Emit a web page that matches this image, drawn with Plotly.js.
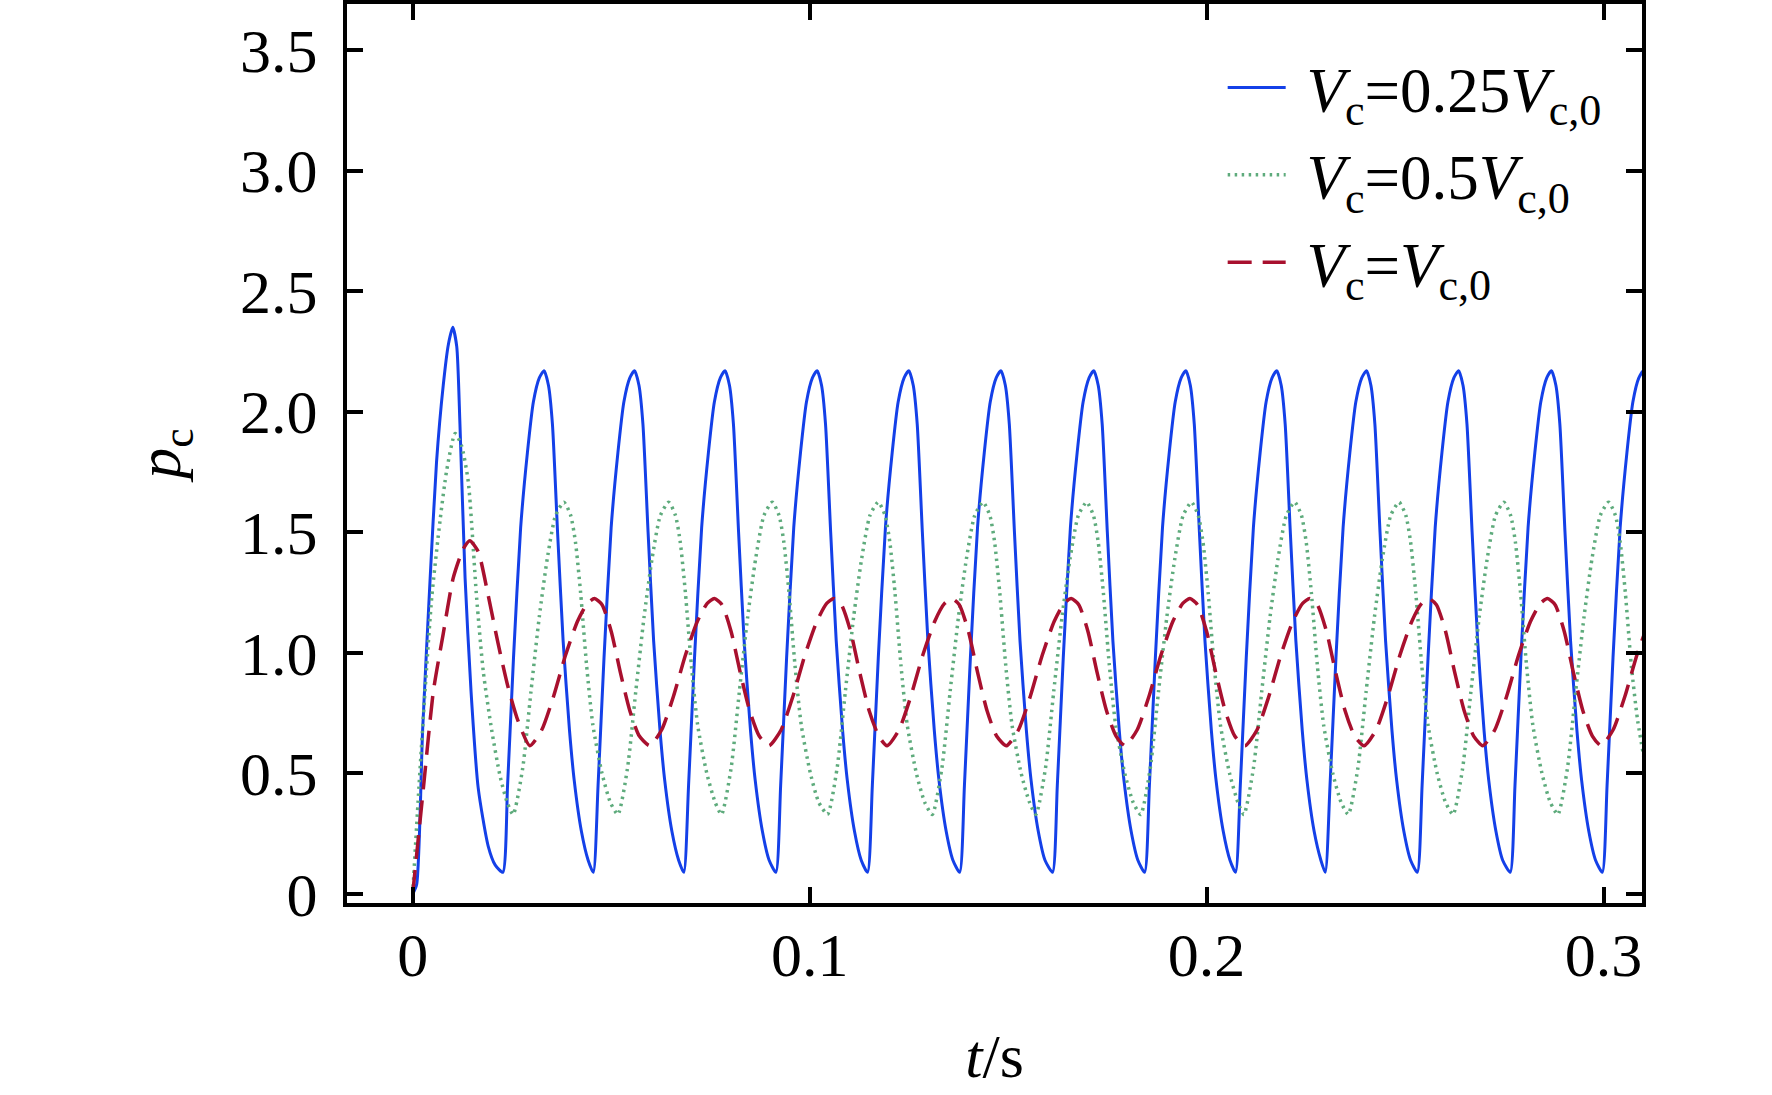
<!DOCTYPE html>
<html>
<head>
<meta charset="utf-8">
<script src="https://cdn.plot.ly/plotly-3.0.1.min.js"></script>
<style>
  html, body { margin: 0; padding: 0; background: #fff; }
  #plot { width: 1772px; height: 1095px; }
</style>
</head>
<body>
<div id="plot"></div>
<script>
// values, one cycle per line
const blueT = [
  0, 0.0010, 0.0025, 0.0044, 0.0060, 0.0077, 0.0090, 0.0101, 0.0111, 0.0119, 0.0132, 0.0147, 0.0165, 0.0190, 0.0208,
  0.0227, 0.0239, 0.0254, 0.0272, 0.0289, 0.0304, 0.0319, 0.0331, 0.0342, 0.0352, 0.0365, 0.0379, 0.0395, 0.0407, 0.0425, 0.0442,
  0.0455, 0.0467, 0.0482, 0.0500, 0.0517, 0.0532, 0.0547, 0.0559, 0.0570, 0.0580, 0.0593, 0.0607, 0.0623, 0.0635, 0.0653, 0.0670,
  0.0683, 0.0695, 0.0710, 0.0728, 0.0745, 0.0760, 0.0775, 0.0787, 0.0798, 0.0808, 0.0821, 0.0835, 0.0851, 0.0863, 0.0881, 0.0898,
  0.0915, 0.0927, 0.0942, 0.0960, 0.0977, 0.0992, 0.1007, 0.1019, 0.1030, 0.1040, 0.1053, 0.1067, 0.1083, 0.1095, 0.1113, 0.1130,
  0.1146, 0.1158, 0.1173, 0.1191, 0.1208, 0.1223, 0.1238, 0.1250, 0.1261, 0.1271, 0.1284, 0.1298, 0.1314, 0.1326, 0.1344, 0.1361,
  0.1378, 0.1390, 0.1405, 0.1423, 0.1440, 0.1455, 0.1470, 0.1482, 0.1493, 0.1503, 0.1516, 0.1530, 0.1546, 0.1558, 0.1576, 0.1593,
  0.1612, 0.1624, 0.1639, 0.1657, 0.1674, 0.1689, 0.1704, 0.1716, 0.1727, 0.1737, 0.1750, 0.1764, 0.1780, 0.1792, 0.1810, 0.1827,
  0.1844, 0.1856, 0.1871, 0.1889, 0.1906, 0.1921, 0.1936, 0.1948, 0.1959, 0.1969, 0.1982, 0.1996, 0.2012, 0.2024, 0.2042, 0.2059,
  0.2073, 0.2085, 0.2100, 0.2118, 0.2135, 0.2150, 0.2165, 0.2177, 0.2188, 0.2198, 0.2211, 0.2225, 0.2241, 0.2253, 0.2271, 0.2288,
  0.2299, 0.2311, 0.2326, 0.2344, 0.2361, 0.2376, 0.2391, 0.2403, 0.2414, 0.2424, 0.2437, 0.2451, 0.2467, 0.2479, 0.2497, 0.2514,
  0.2531, 0.2543, 0.2558, 0.2576, 0.2593, 0.2608, 0.2623, 0.2635, 0.2646, 0.2656, 0.2669, 0.2683, 0.2699, 0.2711, 0.2729, 0.2746,
  0.2765, 0.2777, 0.2792, 0.2810, 0.2827, 0.2842, 0.2857, 0.2869, 0.2880, 0.2890, 0.2903, 0.2917, 0.2933, 0.2945, 0.2963, 0.2980,
  0.2997, 0.3009, 0.3024, 0.3042, 0.3059, 0.3074, 0.3089, 0.3101, 0.3112
];
const blueP = [
  0, 0.04, 0.68, 1.31, 1.79, 2.11, 2.28, 2.35, 2.27, 1.95, 1.31, 0.84, 0.44, 0.20, 0.12,
  0.09, 0.45, 0.98, 1.52, 1.83, 2.04, 2.14, 2.17, 2.11, 1.95, 1.50, 1.05, 0.68, 0.47, 0.26, 0.14,
  0.09, 0.45, 0.98, 1.52, 1.83, 2.04, 2.14, 2.17, 2.11, 1.95, 1.50, 1.05, 0.68, 0.47, 0.26, 0.14,
  0.09, 0.45, 0.98, 1.52, 1.83, 2.04, 2.14, 2.17, 2.11, 1.95, 1.50, 1.05, 0.68, 0.47, 0.26, 0.14,
  0.09, 0.45, 0.98, 1.52, 1.83, 2.04, 2.14, 2.17, 2.11, 1.95, 1.50, 1.05, 0.68, 0.47, 0.26, 0.14,
  0.09, 0.45, 0.98, 1.52, 1.83, 2.04, 2.14, 2.17, 2.11, 1.95, 1.50, 1.05, 0.68, 0.47, 0.26, 0.14,
  0.09, 0.45, 0.98, 1.52, 1.83, 2.04, 2.14, 2.17, 2.11, 1.95, 1.50, 1.05, 0.68, 0.47, 0.26, 0.14,
  0.09, 0.45, 0.98, 1.52, 1.83, 2.04, 2.14, 2.17, 2.11, 1.95, 1.50, 1.05, 0.68, 0.47, 0.26, 0.14,
  0.09, 0.45, 0.98, 1.52, 1.83, 2.04, 2.14, 2.17, 2.11, 1.95, 1.50, 1.05, 0.68, 0.47, 0.26, 0.14,
  0.09, 0.45, 0.98, 1.52, 1.83, 2.04, 2.14, 2.17, 2.11, 1.95, 1.50, 1.05, 0.68, 0.47, 0.26, 0.14,
  0.09, 0.45, 0.98, 1.52, 1.83, 2.04, 2.14, 2.17, 2.11, 1.95, 1.50, 1.05, 0.68, 0.47, 0.26, 0.14,
  0.09, 0.45, 0.98, 1.52, 1.83, 2.04, 2.14, 2.17, 2.11, 1.95, 1.50, 1.05, 0.68, 0.47, 0.26, 0.14,
  0.09, 0.45, 0.98, 1.52, 1.83, 2.04, 2.14, 2.17, 2.11, 1.95, 1.50, 1.05, 0.68, 0.47, 0.26, 0.14,
  0.09, 0.45, 0.98, 1.52, 1.83, 2.04, 2.14, 2.17, 2.11
];

const greenT = [
  0, 0.0016, 0.0031, 0.0048, 0.0069, 0.0086, 0.0107, 0.0123, 0.0140, 0.0161, 0.0178, 0.0199, 0.0220, 0.0238,
  0.0253, 0.0277, 0.0298, 0.0319, 0.0339, 0.0360, 0.0381, 0.0398, 0.0410, 0.0423, 0.0438, 0.0454, 0.0477, 0.0498,
  0.0517, 0.0541, 0.0562, 0.0583, 0.0603, 0.0624, 0.0645, 0.0662, 0.0674, 0.0687, 0.0702, 0.0718, 0.0741, 0.0762,
  0.0778, 0.0802, 0.0823, 0.0844, 0.0864, 0.0885, 0.0906, 0.0923, 0.0935, 0.0948, 0.0963, 0.0979, 0.1002, 0.1023,
  0.1045, 0.1069, 0.1090, 0.1111, 0.1131, 0.1152, 0.1173, 0.1190, 0.1202, 0.1215, 0.1230, 0.1246, 0.1269, 0.1290,
  0.1309, 0.1333, 0.1354, 0.1375, 0.1395, 0.1416, 0.1437, 0.1454, 0.1466, 0.1479, 0.1494, 0.1510, 0.1533, 0.1554,
  0.1570, 0.1594, 0.1615, 0.1636, 0.1656, 0.1677, 0.1698, 0.1715, 0.1727, 0.1740, 0.1755, 0.1771, 0.1794, 0.1815,
  0.1834, 0.1858, 0.1879, 0.1900, 0.1920, 0.1941, 0.1962, 0.1979, 0.1991, 0.2004, 0.2019, 0.2035, 0.2058, 0.2079,
  0.2094, 0.2118, 0.2139, 0.2160, 0.2180, 0.2201, 0.2222, 0.2239, 0.2251, 0.2264, 0.2279, 0.2295, 0.2318, 0.2339,
  0.2357, 0.2381, 0.2402, 0.2423, 0.2443, 0.2464, 0.2485, 0.2502, 0.2514, 0.2527, 0.2542, 0.2558, 0.2581, 0.2602,
  0.2621, 0.2645, 0.2666, 0.2687, 0.2707, 0.2728, 0.2749, 0.2766, 0.2778, 0.2791, 0.2806, 0.2822, 0.2845, 0.2866,
  0.2885, 0.2909, 0.2930, 0.2951, 0.2971, 0.2992, 0.3013, 0.3030, 0.3042, 0.3055, 0.3070, 0.3086, 0.3109
];
const greenP = [
  0, 0.45, 0.84, 1.23, 1.55, 1.76, 1.91, 1.86, 1.71, 1.23, 0.92, 0.68, 0.49, 0.38,
  0.33, 0.52, 0.84, 1.15, 1.39, 1.57, 1.625, 1.57, 1.46, 1.25, 0.95, 0.70, 0.50, 0.38,
  0.33, 0.52, 0.84, 1.15, 1.39, 1.57, 1.625, 1.57, 1.46, 1.25, 0.95, 0.70, 0.50, 0.38,
  0.33, 0.52, 0.84, 1.15, 1.39, 1.57, 1.625, 1.57, 1.46, 1.25, 0.95, 0.70, 0.50, 0.38,
  0.33, 0.52, 0.84, 1.15, 1.39, 1.57, 1.625, 1.57, 1.46, 1.25, 0.95, 0.70, 0.50, 0.38,
  0.33, 0.52, 0.84, 1.15, 1.39, 1.57, 1.625, 1.57, 1.46, 1.25, 0.95, 0.70, 0.50, 0.38,
  0.33, 0.52, 0.84, 1.15, 1.39, 1.57, 1.625, 1.57, 1.46, 1.25, 0.95, 0.70, 0.50, 0.38,
  0.33, 0.52, 0.84, 1.15, 1.39, 1.57, 1.625, 1.57, 1.46, 1.25, 0.95, 0.70, 0.50, 0.38,
  0.33, 0.52, 0.84, 1.15, 1.39, 1.57, 1.625, 1.57, 1.46, 1.25, 0.95, 0.70, 0.50, 0.38,
  0.33, 0.52, 0.84, 1.15, 1.39, 1.57, 1.625, 1.57, 1.46, 1.25, 0.95, 0.70, 0.50, 0.38,
  0.33, 0.52, 0.84, 1.15, 1.39, 1.57, 1.625, 1.57, 1.46, 1.25, 0.95, 0.70, 0.50, 0.38,
  0.33, 0.52, 0.84, 1.15, 1.39, 1.57, 1.625, 1.57, 1.46, 1.25, 0.95, 0.72, 0.50
];

const redT = [
  0, 0.0027, 0.0052, 0.0077, 0.0102, 0.0127, 0.0144, 0.0165, 0.0190, 0.0215, 0.0240, 0.0265,
  0.0295, 0.0325, 0.0355, 0.0385, 0.0415, 0.0440, 0.0458, 0.0477, 0.0500, 0.0523, 0.0547, 0.0571,
  0.0597, 0.0627, 0.0657, 0.0687, 0.0717, 0.0742, 0.0760, 0.0779, 0.0802, 0.0825, 0.0849, 0.0873,
  0.0898, 0.0928, 0.0958, 0.0988, 0.1018, 0.1043, 0.1061, 0.1080, 0.1103, 0.1126, 0.1150, 0.1174,
  0.1195, 0.1225, 0.1255, 0.1285, 0.1315, 0.1340, 0.1358, 0.1377, 0.1400, 0.1423, 0.1447, 0.1471,
  0.1496, 0.1526, 0.1556, 0.1586, 0.1616, 0.1641, 0.1659, 0.1678, 0.1701, 0.1724, 0.1748, 0.1772,
  0.1795, 0.1825, 0.1855, 0.1885, 0.1915, 0.1940, 0.1958, 0.1977, 0.2000, 0.2023, 0.2047, 0.2071,
  0.2097, 0.2127, 0.2157, 0.2187, 0.2217, 0.2242, 0.2260, 0.2279, 0.2302, 0.2325, 0.2349, 0.2373,
  0.2397, 0.2427, 0.2457, 0.2487, 0.2517, 0.2542, 0.2560, 0.2579, 0.2602, 0.2625, 0.2649, 0.2673,
  0.2696, 0.2726, 0.2756, 0.2786, 0.2816, 0.2841, 0.2859, 0.2878, 0.2901, 0.2924, 0.2948, 0.2972,
  0.2994, 0.3024, 0.3054, 0.3084, 0.3114
];
const redP = [
  0, 0.44, 0.84, 1.08, 1.31, 1.43, 1.465, 1.42, 1.24, 1.04, 0.86, 0.72,
  0.615, 0.68, 0.82, 0.99, 1.13, 1.205, 1.225, 1.20, 1.09, 0.92, 0.76, 0.655,
  0.615, 0.68, 0.82, 0.99, 1.13, 1.205, 1.225, 1.20, 1.09, 0.92, 0.76, 0.655,
  0.615, 0.68, 0.82, 0.99, 1.13, 1.205, 1.225, 1.20, 1.09, 0.92, 0.76, 0.655,
  0.615, 0.68, 0.82, 0.99, 1.13, 1.205, 1.225, 1.20, 1.09, 0.92, 0.76, 0.655,
  0.615, 0.68, 0.82, 0.99, 1.13, 1.205, 1.225, 1.20, 1.09, 0.92, 0.76, 0.655,
  0.615, 0.68, 0.82, 0.99, 1.13, 1.205, 1.225, 1.20, 1.09, 0.92, 0.76, 0.655,
  0.615, 0.68, 0.82, 0.99, 1.13, 1.205, 1.225, 1.20, 1.09, 0.92, 0.76, 0.655,
  0.615, 0.68, 0.82, 0.99, 1.13, 1.205, 1.225, 1.20, 1.09, 0.92, 0.76, 0.655,
  0.615, 0.68, 0.82, 0.99, 1.13, 1.205, 1.225, 1.20, 1.09, 0.92, 0.76, 0.655,
  0.615, 0.68, 0.82, 0.99, 1.13
];

// a no-break space keeps the gap between legend line and label
const seriesNames = [
  '&nbsp;<i>V</i><sub>c</sub>=0.25<i>V</i><sub>c,0</sub>',
  '&nbsp;<i>V</i><sub>c</sub>=0.5<i>V</i><sub>c,0</sub>',
  '&nbsp;<i>V</i><sub>c</sub>=<i>V</i><sub>c,0</sub>'
];
const xTickVals = [0, 0.1, 0.2, 0.3];
const xTickText = ['0', '0.1', '0.2', '0.3'];
const yTickVals = [0, 0.5, 1.0, 1.5, 2.0, 2.5, 3.0, 3.5];
const yTickText = ['0', '0.5', '1.0', '1.5', '2.0', '2.5', '3.0', '3.5'];

document.addEventListener('DOMContentLoaded', function() {
    const serif = 'Liberation Serif, Times New Roman, serif';

    const traces = [
        {
            x: blueT, y: blueP, name: seriesNames[0], legendgroup: 'a',
            type: 'scatter', mode: 'lines',
            line: { color: '#1440e8', width: 3, shape: 'spline', smoothing: 0.6 }
        },
        {
            x: greenT, y: greenP, name: seriesNames[1], legendgroup: 'b',
            type: 'scatter', mode: 'lines',
            line: { color: '#5eab7c', width: 3.5, dash: '2.5px,4.5px', shape: 'spline', smoothing: 0.6 }
        },
        {
            x: redT, y: redP, name: seriesNames[2], legendgroup: 'c',
            type: 'scatter', mode: 'lines',
            line: { color: '#a8102e', width: 3.5, dash: '24px,11px', shape: 'spline', smoothing: 0.6 }
        }
    ];

    const axisCommon = {
        showline: true, linecolor: '#000', linewidth: 4,
        mirror: 'ticks', ticks: 'inside', ticklen: 16, tickwidth: 4, tickcolor: '#000',
        showgrid: false, zeroline: false,
        tickfont: { family: serif, size: 62, color: '#000' }
    };

    const layout = {
        width: 1772, height: 1095,
        margin: { l: 347, r: 129.5, t: 4, b: 192 },
        paper_bgcolor: '#fff', plot_bgcolor: '#fff',
        xaxis: Object.assign({}, axisCommon, {
            range: [-0.01655, 0.3097],
            tickmode: 'array', tickvals: xTickVals, ticktext: xTickText,
            ticklabelstandoff: -5,
            title: { text: '<i>t</i>/s', font: { family: serif, size: 62, color: '#000' }, standoff: 46 }
        }),
        yaxis: Object.assign({}, axisCommon, {
            range: [-0.0373, 3.6908],
            tickmode: 'array', tickvals: yTickVals, ticktext: yTickText,
            ticklabelstandoff: 13,
            title: { text: '<i>p</i><sub>c</sub>', font: { family: serif, size: 62, color: '#000' }, standoff: 40 }
        }),
        showlegend: true,
        legend: {
            x: 0.6762, y: 0.96, xanchor: 'left', yanchor: 'top',
            itemwidth: 58, tracegroupgap: 2.5,
            bgcolor: 'rgba(0,0,0,0)', borderwidth: 0,
            font: { family: serif, size: 63, color: '#000' }
        },
        hovermode: false
    };

    Plotly.newPlot('plot', traces, layout, { displayModeBar: false });
});
</script>
</body>
</html>
